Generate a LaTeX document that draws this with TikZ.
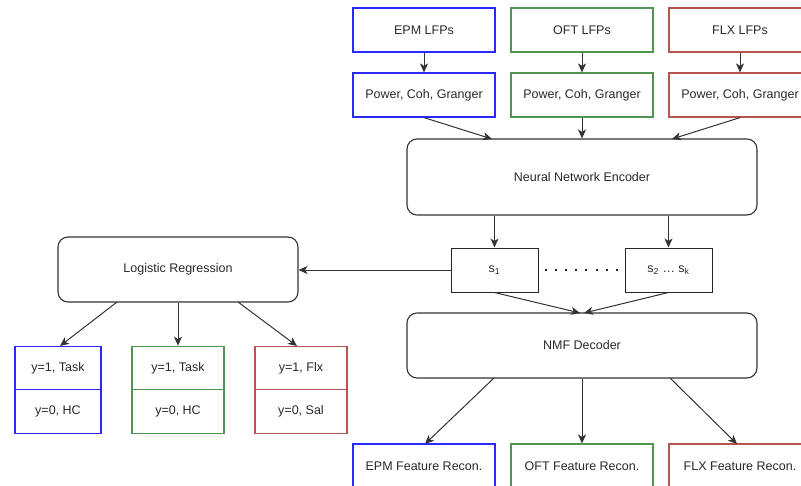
\documentclass[tikz,border=0pt]{standalone}
\usepackage{fontspec}
\setmainfont{Liberation Sans}
\usetikzlibrary{arrows.meta,calc}
\definecolor{cblue}{RGB}{40,40,255}
\definecolor{cgreen}{RGB}{80,150,80}
\definecolor{cred}{RGB}{184,84,80}
\definecolor{ctext}{RGB}{40,40,40}
\begin{document}
\begin{tikzpicture}[x=1pt,y=-1pt,
  every node/.style={font=\fontsize{12.5}{15}\selectfont, text=ctext},
  box/.style={draw, line width=1.2pt, minimum width=142pt, minimum height=44pt, inner sep=0pt},
  sbox/.style={draw=black!85, line width=1pt, minimum width=87pt, minimum height=44pt, inner sep=0pt},
  rbox/.style={draw=black!80, line width=1.1pt, rounded corners=10pt, inner sep=0pt},
  lab/.style={draw, line width=1.2pt, minimum height=43.5pt, inner sep=0pt},
  arr/.style={draw=black!80, line width=1pt, -{Stealth[length=9pt,width=8pt,inset=2.5pt]}}]
\useasboundingbox (0,0) rectangle (801,485);
\clip (0,0) rectangle (801,485);
% top inputs
\node[box, draw=cblue] (epm) at (424,30) {EPM LFPs};
\node[box, draw=cgreen] (oft) at (582,30) {OFT LFPs};
\node[box, draw=cred] (flx) at (740,30) {FLX LFPs};
\node[box, draw=cblue] (epmf) at (424,95) {Power, Coh, Granger};
\node[box, draw=cgreen] (oftf) at (582,95) {Power, Coh, Granger};
\node[box, draw=cred] (flxf) at (740,95) {Power, Coh, Granger};
% encoder
\node[rbox, minimum width=350pt, minimum height=76pt] (enc) at (582,177) {Neural Network Encoder};
% latent
\node[sbox] (s1) at (494.5,270) {s\textsubscript{1}};
\node[sbox] (sk) at (668.5,270) {s\textsubscript{2} … s\textsubscript{k}};
% logistic regression
\node[rbox, minimum width=240pt, minimum height=65pt] (lr) at (178,269.5) {Logistic Regression};
% decoder
\node[rbox, minimum width=350pt, minimum height=65pt] (dec) at (582,345.5) {NMF Decoder};
% label boxes
\node[lab, draw=cblue, minimum width=86pt] (l1a) at (58,368) {y=1, Task};
\node[lab, draw=cblue, minimum width=86pt] (l1b) at (58,411.5) {y=0, HC};
\node[lab, draw=cgreen, minimum width=92pt] (l2a) at (178,368) {y=1, Task};
\node[lab, draw=cgreen, minimum width=92pt] (l2b) at (178,411.5) {y=0, HC};
\node[lab, draw=cred, minimum width=92pt] (l3a) at (301,368) {y=1, Flx};
\node[lab, draw=cred, minimum width=92pt] (l3b) at (301,411.5) {y=0, Sal};
% reconstructions
\node[box, draw=cblue] (epmr) at (424,466) {EPM Feature Recon.};
\node[box, draw=cgreen] (oftr) at (582,466) {OFT Feature Recon.};
\node[box, draw=cred] (flxr) at (740,466) {FLX Feature Recon.};
% coordinates for connector ends
\coordinate (encA) at (492,139);
\coordinate (encC) at (672,139);
\coordinate (decA) at (580,313);
\coordinate (decB) at (584,313);
\coordinate (lrA) at (117,302);
\coordinate (lrC) at (238,302);
\coordinate (l1top) at (60,346);
\coordinate (l3top) at (297,346);
\coordinate (decoA) at (494,378);
\coordinate (decoC) at (670,378);
\coordinate (rA) at (425,444);
\coordinate (rC) at (737,444);
% connectors
\draw[arr] (epm) -- (epmf);
\draw[arr] (oft) -- (oftf);
\draw[arr] (flx) -- (flxf);
\draw[arr] (epmf.south) -- (encA);
\draw[arr] (oftf) -- (enc);
\draw[arr] (flxf.south) -- (encC);
\draw[arr] (enc.south -| s1.north) -- (s1.north);
\draw[arr] (enc.south -| sk.north) -- (sk.north);
\draw[black!85, line width=2pt, dash pattern=on 2pt off 8.2pt] ($(s1.east)+(6,0)$) -- (sk.west);
\draw[arr] (s1.west) -- (s1.west -| lr.east);
\draw[arr] (s1.south) -- (decA);
\draw[arr] (sk.south) -- (decB);
\draw[arr] (lrA) -- (l1top);
\draw[arr] (lr.south -| l2a.north) -- (l2a.north);
\draw[arr] (lrC) -- (l3top);
\draw[arr] (decoA) -- (rA);
\draw[arr] (dec) -- (oftr);
\draw[arr] (decoC) -- (rC);
\end{tikzpicture}
\end{document}
